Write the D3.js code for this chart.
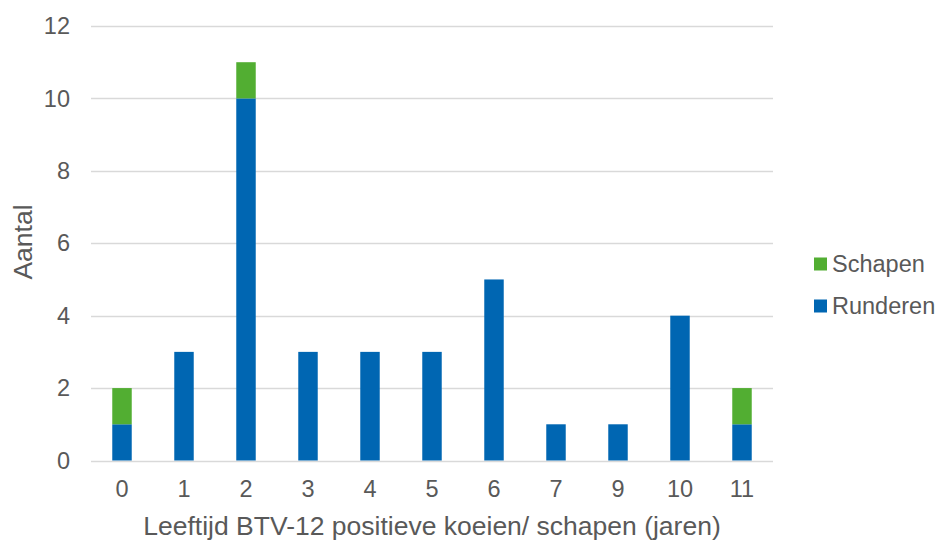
<!DOCTYPE html>
<html><head><meta charset="utf-8">
<script src="https://cdn.jsdelivr.net/npm/d3@7"></script>
<style>body{margin:0;background:#fff}</style>
</head><body>
<svg id="c" width="938" height="540" font-family="'Liberation Sans', Arial, sans-serif"></svg>
<script>
const categories = ["0","1","2","3","4","5","6","7","9","10","11"];
const runderen = [1,3,10,3,3,3,5,1,1,4,1];
const schapen  = [1,0,1,0,0,0,0,0,0,0,1];
const yTicks = [0,2,4,6,8,10,12];
const seriesNames = ["Runderen","Schapen"];
const colors = {Runderen:"#0066B2", Schapen:"#52AE32"};
const textColor = "#595959";

const svg = d3.select("#c");
const x = d3.scaleBand().domain(categories).range([91,773]).paddingInner(0.686).paddingOuter(0.343);
const y = d3.scaleLinear().domain([0,12]).range([460.5,26]);

svg.append("g").selectAll("line").data(yTicks).join("line")
  .attr("x1",91).attr("x2",773)
  .attr("y1",d=>Math.round(y(d))+0.5).attr("y2",d=>Math.round(y(d))+0.5)
  .attr("stroke","#d9d9d9").attr("stroke-width",1.5);

svg.append("g").selectAll("text").data(yTicks).join("text")
  .attr("x",70).attr("y",d=>y(d)).attr("dy","0.35em").attr("fill",textColor)
  .attr("text-anchor","end").attr("font-size",23.5).text(d=>d);

const rows = categories.map((c,i)=>({cat:c, Runderen:runderen[i], Schapen:schapen[i]}));
const stack = d3.stack().keys(seriesNames)(rows);
svg.append("g").selectAll("g").data(stack).join("g")
  .attr("fill",d=>colors[d.key])
  .selectAll("rect").data(d=>d.filter(p=>p[1]-p[0]>0)).join("rect")
  .attr("x",d=>x(d.data.cat)).attr("width",x.bandwidth())
  .attr("y",d=>y(d[1])).attr("height",d=>y(d[0])-y(d[1]));

svg.append("g").selectAll("text").data(categories).join("text")
  .attr("x",d=>x(d)+x.bandwidth()/2).attr("y",497).attr("fill",textColor)
  .attr("text-anchor","middle").attr("font-size",23.5).text(d=>d);

svg.append("text").attr("x",432).attr("y",535).attr("text-anchor","middle").attr("fill",textColor)
  .attr("font-size",26.5).text("Leeftijd BTV-12 positieve koeien/ schapen (jaren)");
svg.append("text").attr("transform","translate(32,242) rotate(-90)").attr("fill",textColor)
  .attr("text-anchor","middle").attr("font-size",26.5).text("Aantal");

const leg = [{name:"Schapen",y:264},{name:"Runderen",y:306}];
const lg = svg.append("g");
lg.selectAll("rect").data(leg).join("rect")
  .attr("x",814).attr("y",d=>d.y-6.5).attr("width",13).attr("height",13)
  .attr("fill",d=>colors[d.name]);
lg.selectAll("text").data(leg).join("text").attr("fill",textColor)
  .attr("x",832).attr("y",d=>d.y).attr("dy","0.35em").attr("font-size",23.5).text(d=>d.name);
</script>
</body></html>
